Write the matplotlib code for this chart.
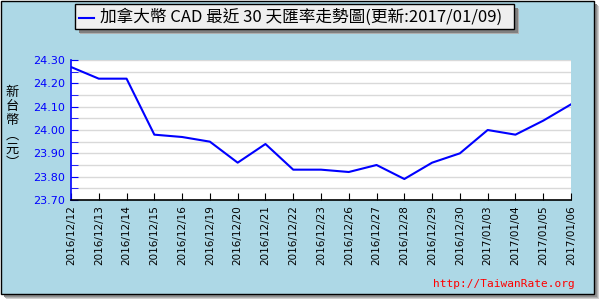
import matplotlib
matplotlib.use("Agg")
import matplotlib.pyplot as plt
from matplotlib.patches import Rectangle
from matplotlib.ticker import MultipleLocator, FormatStrFormatter
from matplotlib.lines import Line2D

dates = ["2016/12/12", "2016/12/13", "2016/12/14", "2016/12/15", "2016/12/16",
         "2016/12/19", "2016/12/20", "2016/12/21", "2016/12/22", "2016/12/23",
         "2016/12/26", "2016/12/27", "2016/12/28", "2016/12/29", "2016/12/30",
         "2017/01/03", "2017/01/04", "2017/01/05", "2017/01/06"]
rates = [24.27, 24.22, 24.22, 23.98, 23.97, 23.95, 23.86, 23.94, 23.83, 23.83,
         23.82, 23.85, 23.79, 23.86, 23.90, 24.00, 23.98, 24.04, 24.11]
title = "加拿大幣 CAD 最近 30 天匯率走勢圖(更新:2017/01/09)"
ylabel_chars = "新台幣︵元︶"
watermark = "http://TaiwanRate.org"

plt.rcParams['font.family'] = ['DejaVu Sans', 'Noto Sans CJK TC']
W, H = 600, 300
fig = plt.figure(figsize=(6, 3), dpi=100)

def px(x, y, w, h):
    return (x / W, 1 - (y + h) / H, w / W, h / H)

# shadow and panel
for off, col in [(6, "#d0d0d0"), (5, "#b0b0b0"), (4, "#909090")]:
    x0, y0, w0, h0 = px(off, off, 593, 293)
    fig.patches.append(Rectangle((x0, y0), w0, h0, transform=fig.transFigure,
                                 facecolor=col, edgecolor="none", zorder=0))
x0, y0, w0, h0 = px(0.5, 0.5, 593, 293)
fig.patches.append(Rectangle((x0, y0), w0, h0, transform=fig.transFigure,
                             facecolor="#add8e6", edgecolor="black", linewidth=1.0, zorder=1))

# title box
for off, col in [(5, "#b0b0b0"), (4, "#808080")]:
    x0, y0, w0, h0 = px(75 + off, 4 + off, 439, 25)
    fig.patches.append(Rectangle((x0, y0), w0, h0, transform=fig.transFigure,
                                 facecolor=col, edgecolor="none", zorder=2))
x0, y0, w0, h0 = px(75, 4, 439, 25)
fig.patches.append(Rectangle((x0, y0), w0, h0, transform=fig.transFigure,
                             facecolor="#efefef", edgecolor="black", linewidth=1.0, zorder=3))
fig.add_artist(Line2D([79 / W, 94 / W], [1 - 18 / H, 1 - 18 / H], transform=fig.transFigure,
                      color="blue", linewidth=1.5, zorder=4))
fig.text(100 / W, 1 - 17 / H, title, fontsize=12, va="center", ha="left",
         family=['Noto Sans CJK TC', 'DejaVu Sans'], zorder=5)

ax = fig.add_axes(px(71, 60, 500, 140))
ax.set_facecolor("white")
ax.set_zorder(6)
xs = list(range(len(dates)))
ax.plot(xs, rates, color="blue", linewidth=1.5, zorder=3)
ax.set_xlim(0, len(dates) - 1)
ax.set_ylim(23.70, 24.30)
ax.yaxis.set_major_locator(MultipleLocator(0.1))
ax.yaxis.set_minor_locator(MultipleLocator(0.05))
ax.yaxis.set_major_formatter(FormatStrFormatter("%.2f"))
ax.grid(True, which="both", axis="y", color="#d9d9d9", linewidth=1.0, zorder=1)
ax.set_xticks(xs)
ax.set_xticklabels(dates, rotation=90, fontsize=7.5, color="black")
for s in ["top", "right"]:
    ax.spines[s].set_visible(False)
ax.spines["left"].set_color("blue")
ax.spines["left"].set_linewidth(1.2)
ax.spines["bottom"].set_color("black")
ax.spines["bottom"].set_linewidth(1.2)
ax.tick_params(axis="y", which="both", direction="in", length=5, color="blue",
               labelcolor="blue", labelsize=8, pad=4)
ax.tick_params(axis="x", direction="in", length=5, color="black", pad=4)

fig.text(12 / W, 1 - 128 / H, "\n".join(ylabel_chars), fontsize=9.5, ha="center", va="center",
         linespacing=1.12, family=['Noto Sans CJK TC', 'DejaVu Sans'], zorder=5)
fig.text(575 / W, 1 - 284 / H, watermark, fontsize=8, color="red", ha="right", va="center",
         family="DejaVu Sans Mono", zorder=5)

fig.savefig("out.png", dpi=100)
